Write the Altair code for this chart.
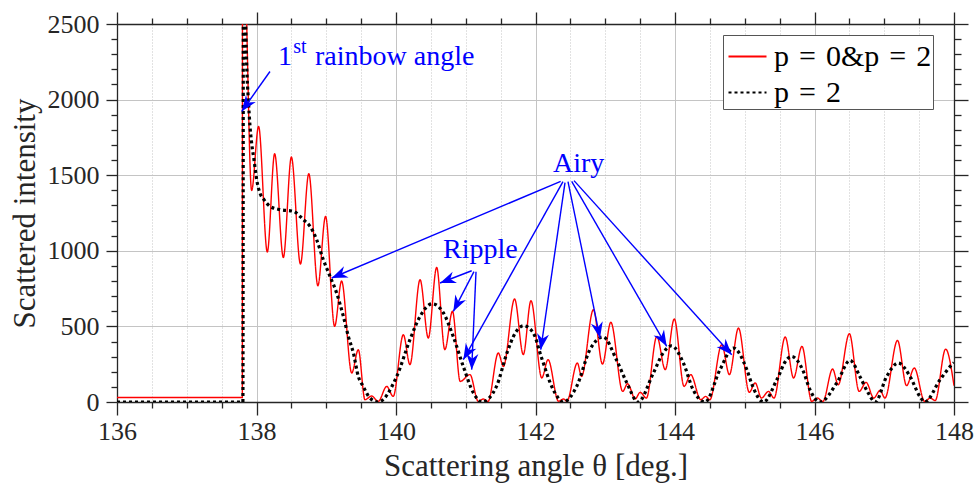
import math
import altair as alt
import pandas as pd

# ---------------- data ----------------
red_x = [136.0, 137.797, 137.80, 137.86, 137.93, 138.03, 138.155, 138.26, 138.385, 138.50,
         138.63, 138.75, 138.88, 138.99, 139.12, 139.22, 139.365, 139.46, 139.555, 139.65,
         139.745, 139.867, 139.96, 140.105, 140.20, 140.345, 140.463, 140.583, 140.70, 140.81,
         140.92, 141.06, 141.18, 141.25, 141.32, 141.467, 141.54, 141.70, 141.825, 141.935,
         142.09, 142.18, 142.33, 142.40, 142.45, 142.60, 142.66, 142.83, 142.96, 143.08,
         143.25, 143.32, 143.43, 143.50, 143.59, 143.74, 143.86, 143.99, 144.13, 144.225,
         144.37, 144.44, 144.50, 144.67, 144.78, 144.91, 145.065, 145.15, 145.24, 145.34,
         145.42, 145.58, 145.70, 145.82, 145.96, 146.04, 146.12, 146.26, 146.34, 146.50,
         146.64, 146.74, 146.85, 146.94, 147.01, 147.19, 147.32, 147.43, 147.58, 147.66,
         147.73, 147.88, 148.0]
red_y = [30, 30, 4000, 2500, 1399, 1823, 992, 1642, 956, 1620,
         913, 1510, 769, 1228, 500, 800, 192, 346, 15, 40,
         4, 103, 37, 445, 247, 809, 423, 890, 346, 600,
         136, 181, 4, 20, 4, 324, 235, 681, 313, 670,
         159, 280, 5, 20, 5, 258, 169, 610, 251, 527,
         70, 121, 20, 64, 26, 434, 214, 549, 103, 181,
         15, 37, 15, 379, 181, 489, 64, 126, 26, 70,
         26, 430, 159, 368, 4, 26, 4, 218, 114, 452,
         70, 130, 26, 77, 26, 407, 108, 225, 4, 26,
         9, 350, 108]

blk_x = [136.0, 137.805, 137.815, 137.845, 137.86, 137.883, 137.907, 137.93, 137.964, 138.003,
         138.05, 138.107, 138.193, 138.337, 138.528, 138.671, 138.767, 138.862, 138.958, 139.054,
         139.149, 139.245, 139.317, 139.389, 139.46, 139.53, 139.62, 139.745, 140.01, 140.20,
         140.345, 140.52, 140.68, 140.82, 140.965, 141.11, 141.23, 141.44, 141.59, 141.71,
         141.83, 141.97, 142.08, 142.255, 142.40, 142.59, 142.78, 142.97, 143.16, 143.31,
         143.47, 143.69, 143.83, 143.95, 144.12, 144.26, 144.43, 144.645, 144.835, 145.03,
         145.10, 145.27, 145.46, 145.60, 145.67, 145.84, 145.935, 146.08, 146.32, 146.51,
         146.65, 146.77, 146.87, 147.035, 147.20, 147.37, 147.51, 147.58, 147.80, 147.97, 148.0]
blk_y = [0, 0, 4000, 2500, 2220, 1999, 1823, 1713, 1603, 1470,
         1381, 1338, 1294, 1272, 1261, 1206, 1162, 1074, 941, 831,
         721, 567, 434, 324, 169, 103, 30, 0, 169, 412,
         566, 650, 589, 434, 235, 60, 0, 103, 324, 456,
         505, 456, 302, 81, 0, 103, 346, 430, 280, 126,
         0, 192, 324, 372, 258, 81, 0, 214, 357, 214,
         120, 0, 147, 280, 302, 202, 81, 0, 126, 275,
         169, 60, 0, 169, 258, 169, 37, 0, 147, 247, 260]

series_names = ["p\u2004=\u20040&p\u2004=\u20042", "p\u2004=\u20042"]

# annotation arrows: start (x0, y0) -> tip (x1, y1)
arrow_x0 = [138.193, 142.361, 142.394, 142.423, 142.466, 142.519, 142.552, 141.085, 141.118, 141.147]
arrow_y0 = [2186, 1459, 1458, 1451, 1458, 1459, 1464, 868, 862, 862]
arrow_x1 = [137.788, 139.078, 140.965, 142.075, 142.925, 143.881, 144.813, 140.631, 140.822, 141.085]
arrow_y1 = [1922, 820, 280, 346, 423, 368, 313, 787, 599, 214]

label_text = ["1", "st", "rainbow angle", "Airy", "Ripple"]
label_x = [138.308, 138.528, 138.839, 142.251, 140.674]
label_y = [2231, 2310, 2231, 1523, 954]
label_fs = [28, 20, 28, 28, 28]

x_major = [136, 138, 140, 142, 144, 146, 148]
y_major = [0, 500, 1000, 1500, 2000, 2500]

# ---------------- layout / style ----------------
W, H = 837, 378
XD, YD = [136, 148], [0, 2500]
FONT = "Liberation Serif"
AX = "#262626"
GRID = "#c4c4c4"

x_minor = [136 + 0.5 * i for i in range(25) if (136 + 0.5 * i) not in x_major]
y_minor = [100 * i for i in range(26) if (100 * i) not in y_major]

red_df = pd.DataFrame({"theta": red_x, "I": red_y, "series": series_names[0], "o": range(len(red_x))})
blk_df = pd.DataFrame({"theta": blk_x, "I": blk_y, "series": series_names[1], "o": range(len(blk_x))})

sx = W / (XD[1] - XD[0])
sy = H / (YD[1] - YD[0])
angles = []
for a, b, c, d in zip(arrow_x0, arrow_y0, arrow_x1, arrow_y1):
    dx = (c - a) * sx
    dy = -(d - b) * sy
    ang = math.degrees(math.atan2(dx, -dy)) % 360
    angles.append(ang)
arr_df = pd.DataFrame({"x0": arrow_x0, "y0": arrow_y0, "x1": arrow_x1, "y1": arrow_y1, "ang": angles})
txt_df = pd.DataFrame({"x": label_x, "y": label_y, "t": label_text, "fs": label_fs})

xs = alt.Scale(domain=XD, nice=False, zero=False)
ys = alt.Scale(domain=YD, nice=False, zero=False)

common = dict(domainColor=AX, tickColor=AX, labelColor=AX, titleColor=AX,
              domainWidth=1.3, tickWidth=1.3)

ax_xb_major = alt.Axis(orient="bottom", values=x_major, format="d", tickSize=13, grid=True,
                       gridColor=GRID, gridWidth=1, labelFont=FONT, labelFontSize=26,
                       labelFlush=False, labelPadding=3, title="Scattering angle \u03b8 [deg.]",
                       titleFont=FONT, titleFontSize=31, titleFontWeight="normal",
                       titlePadding=7, **common)
ax_xb_minor = alt.Axis(orient="bottom", values=x_minor, tickSize=6, labels=False, grid=True,
                       gridColor=GRID, gridDash=[1, 2], gridWidth=1, domain=False, title=None,
                       tickColor=AX, tickWidth=1.3)
ax_xt_major = alt.Axis(orient="top", values=x_major, tickSize=12, labels=False, grid=False,
                       title=None, **common)
ax_xt_minor = alt.Axis(orient="top", values=x_minor, tickSize=6, labels=False, grid=False,
                       domain=False, title=None, tickColor=AX, tickWidth=1.3)

ax_yl_major = alt.Axis(orient="left", values=y_major, format="d", tickSize=11, grid=True,
                       gridColor=GRID, gridWidth=1, labelFont=FONT, labelFontSize=26,
                       labelFlush=False, labelPadding=7, title="Scattered intensity",
                       titleFont=FONT, titleFontSize=31, titleFontWeight="normal",
                       titlePadding=6, **common)
ax_yl_minor = alt.Axis(orient="left", values=y_minor, tickSize=6, labels=False, grid=False,
                       domain=False, title=None, tickColor=AX, tickWidth=1.3)
ax_yr_major = alt.Axis(orient="right", values=y_major, tickSize=14, labels=False, grid=False,
                       title=None, **common)
ax_yr_minor = alt.Axis(orient="right", values=y_minor, tickSize=7, labels=False, grid=False,
                       domain=False, title=None, tickColor=AX, tickWidth=1.3)

legend = alt.Legend(title=None, orient="none", legendX=606, legendY=11, symbolType="stroke",
                    symbolSize=1444, symbolStrokeWidth=2.2, symbolOffset=3,
                    labelFont=FONT, labelFontSize=30, labelColor="#000000", labelOffset=6,
                    labelLimit=400, strokeColor="#555555", fillColor="white", padding=1,
                    rowPadding=-2, cornerRadius=0)

color = alt.Color("series:N", scale=alt.Scale(domain=series_names, range=["#ff0000", "#000000"]),
                  legend=legend)
dash = alt.StrokeDash("series:N", scale=alt.Scale(domain=series_names, range=[[1, 0], [3, 3]]),
                      legend=legend)

red = alt.Chart(red_df).mark_line(interpolate="monotone", strokeWidth=1.4, clip=True).encode(
    x=alt.X("theta:Q", scale=xs, axis=ax_xb_major),
    y=alt.Y("I:Q", scale=ys, axis=ax_yl_major),
    order="o:Q", color=color, strokeDash=dash)

blk = alt.Chart(blk_df).mark_line(interpolate="monotone", strokeWidth=3.2, clip=True).encode(
    x=alt.X("theta:Q", scale=xs, axis=ax_xb_minor),
    y=alt.Y("I:Q", scale=ys, axis=ax_yl_minor),
    order="o:Q", color=color, strokeDash=dash)

arrows = alt.Chart(arr_df).mark_rule(color="#0000ff", strokeWidth=1.4).encode(
    x=alt.X("x0:Q", scale=xs, axis=ax_xt_major),
    y=alt.Y("y0:Q", scale=ys, axis=ax_yr_major),
    x2="x1:Q", y2="y1:Q")

heads = alt.Chart(arr_df).mark_point(shape="M0,0L0.55,1.45L0,1.0L-0.55,1.45Z", filled=True,
                                     opacity=1, size=480, color="#0000ff").encode(
    x=alt.X("x1:Q", scale=xs, axis=ax_xt_minor),
    y=alt.Y("y1:Q", scale=ys, axis=ax_yr_minor),
    angle=alt.Angle("ang:Q", scale=None))

texts = alt.Chart(txt_df).mark_text(font=FONT, color="#0000ff", align="left",
                                    baseline="alphabetic").encode(
    x=alt.X("x:Q", scale=xs, axis=None),
    y=alt.Y("y:Q", scale=ys, axis=None),
    text="t:N", size=alt.Size("fs:Q", scale=None))

chart = alt.layer(red, blk, arrows, heads, texts).resolve_axis(
    x="independent", y="independent"
).properties(
    width=W, height=H,
    autosize=alt.AutoSizeParams(type="none"),
    padding={"left": 117, "top": 24, "right": 22, "bottom": 85},
    background="white",
).configure_view(stroke=None)

chart.save("out.html", embed_options={"renderer": "svg", "actions": False})
